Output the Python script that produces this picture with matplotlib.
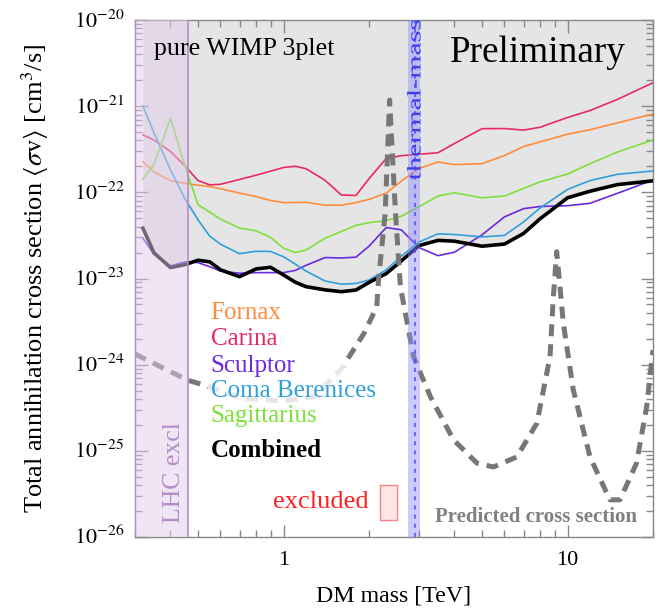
import numpy as np
import matplotlib
matplotlib.use('Agg')
import matplotlib.pyplot as plt
from matplotlib.ticker import LogLocator, FixedLocator, FuncFormatter, NullFormatter
from matplotlib.patches import Rectangle, PathPatch
from matplotlib.textpath import TextPath
from matplotlib.font_manager import FontProperties
import matplotlib.transforms as mtransforms

plt.rcParams['font.family'] = ['Liberation Serif', 'DejaVu Serif']
plt.rcParams['mathtext.fontset'] = 'stix'

# ---------------- data ----------------
mass = [0.32, 0.35, 0.4, 0.45, 0.5, 0.55, 0.6, 0.7, 0.8, 0.9, 1.0, 1.1, 1.2, 1.4, 1.6,
        1.8, 2.0, 2.3, 2.6, 3.0, 3.5, 4.0, 5.0, 6.0, 7.0, 8.0, 10.0, 12.0, 15.0, 20.0]

fornax = [2.27e-22, 1.72e-22, 1.37e-22, 1.27e-22, 1.21e-22, 1.17e-22, 1.10e-22, 9.8e-23,
          8.93e-23, 8.04e-23, 7.6e-23, 7.62e-23, 7.67e-23, 7.08e-23, 7.1e-23, 7.6e-23,
          8.28e-23, 9.8e-23, 1.35e-22, 1.89e-22, 2.25e-22, 2.1e-22, 2.15e-22, 2.67e-22,
          3.4e-22, 3.85e-22, 4.73e-22, 5.33e-22, 6.41e-22, 8.11e-22]

carina = [4.63e-22, 4.05e-22, 2.98e-22, 2.02e-22, 1.37e-22, 1.22e-22, 1.24e-22, 1.41e-22,
          1.58e-22, 1.76e-22, 1.94e-22, 2.01e-22, 1.88e-22, 1.38e-22, 9.3e-23, 9.2e-23,
          1.44e-22, 2.47e-22, 2.66e-22, 2.77e-22, 2.88e-22, 3.69e-22, 5.48e-22, 5.5e-22,
          5.28e-22, 5.69e-22, 7.39e-22, 8.9e-22, 1.2e-21, 1.87e-21]

sculptor = [2.93e-23, 1.9e-23, 1.4e-23, 1.56e-23, 1.53e-23, 1.37e-23, 1.22e-23, 1.15e-23,
            1.17e-23, 1.17e-23, 1.17e-23, 1.24e-23, 1.42e-23, 1.75e-23, 1.73e-23, 1.77e-23,
            2.37e-23, 3.9e-23, 3.67e-23, 2.28e-23, 1.84e-23, 2.02e-23, 3.21e-23, 5.19e-23,
            6.46e-23, 6.85e-23, 7.0e-23, 7.46e-23, 9.75e-23, 1.39e-22]

coma = [1.0e-21, 4.9e-22, 1.82e-22, 8.4e-23, 4.8e-23, 3.1e-23, 2.5e-23, 1.94e-23,
        2.07e-23, 2.06e-23, 1.79e-23, 1.47e-23, 1.22e-23, 9.35e-24, 8.6e-24, 8.75e-24,
        9.6e-24, 1.26e-23, 1.82e-23, 2.65e-23, 3.3e-23, 3.24e-23, 3.04e-23, 3.16e-23,
        4.53e-23, 6.58e-23, 1.08e-22, 1.37e-22, 1.62e-22, 1.77e-22]

sagittarius = [1.42e-22, 2.11e-22, 7.23e-22, 2.01e-22, 7.19e-23, 5.9e-23, 4.88e-23, 3.85e-23,
               3.58e-23, 3.0e-23, 2.25e-23, 2.0e-23, 2.14e-23, 2.93e-23, 3.52e-23, 4.13e-23,
               4.45e-23, 4.7e-23, 5.29e-23, 6.81e-23, 9.07e-23, 9.88e-23, 8.64e-23, 9.07e-23,
               1.11e-22, 1.32e-22, 1.63e-22, 2.15e-22, 2.94e-22, 4.05e-22]

combined = [3.83e-23, 1.98e-23, 1.34e-23, 1.45e-23, 1.63e-23, 1.56e-23, 1.26e-23, 1.05e-23,
            1.29e-23, 1.35e-23, 1.1e-23, 9.06e-24, 8.04e-24, 7.38e-24, 7.03e-24, 7.35e-24,
            9.0e-24, 1.14e-23, 1.6e-23, 2.41e-23, 2.77e-23, 2.71e-23, 2.37e-23, 2.51e-23,
            3.33e-23, 4.92e-23, 8.64e-23, 1.03e-22, 1.23e-22, 1.36e-22]

pred_mass = [0.3, 0.46, 0.54, 0.7, 1.0, 1.28, 1.59, 1.92, 2.13, 2.16, 2.28, 2.33, 2.364,
             2.41, 2.48, 2.58, 2.87, 3.29, 3.97, 4.8, 5.49, 6.63, 7.8, 8.68, 8.9, 9.16,
             9.67, 10.48, 12.0, 14.1, 15.3, 17.5, 19.0, 20.0]
pred_sv = [1.33e-24, 6.6e-25, 5.65e-25, 4.1e-25, 3.8e-25, 4.25e-25, 8.7e-25, 2.3e-24,
           4.7e-24, 9.6e-24, 5.7e-23, 3.4e-22, 1.18e-21, 3.4e-22, 5.7e-23, 8e-24,
           1.24e-24, 4.25e-25, 1.34e-25, 7.2e-26, 6.5e-26, 8.5e-26, 2.09e-25, 1.24e-24,
           5.6e-24, 2.05e-23, 3.0e-24, 5.1e-25, 8.5e-26, 2.7e-26, 2.7e-26, 7.2e-26,
           3.25e-25, 1.48e-24]

lhc_excl = (0.3, 0.46)
thermal_band = (2.74, 3.03)
thermal_mass = 2.9

series_names = ['Fornax', 'Carina', 'Sculptor', 'Coma Berenices', 'Sagittarius']
series_colors = ['#ff8c3c', '#e82a62', '#6a2ae0', '#2f9fdc', '#7ee03a']
series_data = [fornax, carina, sculptor, coma, sagittarius]

y_exponents = [-26, -25, -24, -23, -22, -21, -20]
x_ticks = [1, 10]

# ---------------- figure ----------------
W, H = 658, 613
fig = plt.figure(figsize=(W / 100, H / 100), dpi=100)
ax = fig.add_axes([135 / W, 76 / H, 518 / W, 517 / H])
ax.set_xscale('log')
ax.set_yscale('log')
ax.set_xlim(0.3, 20)
ax.set_ylim(1e-26, 1e-20)

ax.fill_between(mass, combined, 1e-20, color='#e5e5e5', lw=0, zorder=0)

for d, c in zip(series_data, series_colors):
    ax.plot(mass, d, color=c, lw=1.2, zorder=2)
ax.plot(mass, combined, color='black', lw=2.6, zorder=3, solid_joinstyle='round')

ax.plot(pred_mass, pred_sv, color='#777777', lw=3.6, ls=(0, (2.4, 1.6)), zorder=4)

# legend background
ax.add_patch(Rectangle((0.141, 0.145), 0.264, 0.317, transform=ax.transAxes,
                       fc='white', ec='none', alpha=0.82, zorder=5))


def axp(px, py):
    return ((px - 135) / 518, (537 - py) / 517)


baselines = [319.3, 345, 371.7, 396.7, 421.7]
for name, c, b in zip(series_names, series_colors, baselines):
    ax.text(*axp(210.7, b), name, color=c, fontsize=18, transform=ax.transAxes,
            va='baseline', ha='left', zorder=6)
ax.text(*axp(210.7, 456.7), 'Combined', color='black', fontsize=18, fontweight='bold',
        transform=ax.transAxes, va='baseline', ha='left', zorder=6)

ax.text(*axp(154, 55), 'pure WIMP 3plet', fontsize=18.7, transform=ax.transAxes,
        va='baseline', ha='left', zorder=9)
ax.text(*axp(450, 61.7), 'Preliminary', fontsize=26.8, transform=ax.transAxes,
        va='baseline', ha='left', zorder=9)
ax.text(*axp(273, 508), 'excluded', fontsize=19, color='#ff2020', transform=ax.transAxes,
        va='baseline', ha='left', zorder=6)
x0, y0 = axp(380, 520)
x1, y1 = axp(396.7, 485)
ax.add_patch(Rectangle((x0, y0), x1 - x0, y1 - y0, transform=ax.transAxes,
                       fc='#fde6e6', ec='#ff8080', lw=1, zorder=6))
ax.text(*axp(435, 521.7), 'Predicted cross section', fontsize=15, fontweight='bold',
        color='#808080', transform=ax.transAxes, va='baseline', ha='left', zorder=6)

# LHC exclusion band
ax.axvspan(*lhc_excl, color=(0.88, 0.80, 0.92), alpha=0.5, lw=0, zorder=7)
ax.axvline(lhc_excl[1], color='#b48cc8', lw=1.2, zorder=7.5)
ax.axvline(lhc_excl[0], color='#b48cc8', lw=1.5, zorder=7.5)
ax.text(*axp(180, 523), 'LHC excl', fontsize=18.5, color='#b58cc9', rotation=90,
        rotation_mode='anchor', ha='left', va='baseline', transform=ax.transAxes, zorder=8)

# thermal mass band
ax.axvspan(*thermal_band, color=(0.55, 0.55, 1.0), alpha=0.45, lw=0, zorder=7)
ax.axvline(thermal_mass, color='#4a4aff', lw=1.1, ls=(0, (2.7, 3.3)), zorder=7.5)

fp = FontProperties(family='Liberation Serif')
tp = TextPath((0, 0), 'thermal-mass', size=1, prop=fp)
ext = tp.get_extents()
L_px, H_em = 160.0, 19.5
tr = (mtransforms.Affine2D().translate(-ext.x0, 0).scale(L_px / ext.width, H_em)
      .rotate_deg(90).translate(420.5, H - 180))
fig.add_artist(PathPatch(tp, transform=tr, fc='#4040ea', ec='none', zorder=9))

# ticks
ax.xaxis.set_major_locator(FixedLocator(x_ticks))
ax.xaxis.set_major_formatter(FuncFormatter(lambda v, p: f'{v:g}'))
ax.xaxis.set_minor_locator(LogLocator(base=10, subs=np.arange(2, 10), numticks=20))
ax.xaxis.set_minor_formatter(NullFormatter())
ax.yaxis.set_major_locator(FixedLocator([10.0 ** k for k in y_exponents]))
ax.yaxis.set_major_formatter(NullFormatter())
ax.yaxis.set_minor_locator(LogLocator(base=10, subs=np.arange(2, 10), numticks=30))
ax.yaxis.set_minor_formatter(NullFormatter())
ax.tick_params(which='both', direction='in', top=True, right=True, color='#888888',
               labelsize=16, width=1)
ax.tick_params(which='major', length=9)
ax.tick_params(which='minor', length=5)
ax.tick_params(axis='x', which='major', pad=10)

ytrans = (mtransforms.blended_transform_factory(ax.transAxes, ax.transData)
          + mtransforms.ScaledTranslation(-11 / 100, -7.5 / 100, fig.dpi_scale_trans))
for k in y_exponents:
    ax.text(0, 10.0 ** k, r'$10^{%d}$' % k, transform=ytrans, ha='right', va='baseline',
            fontsize=16, clip_on=False)

for s in ax.spines.values():
    s.set_color('#888888')
    s.set_linewidth(1)

ax.set_xlabel('DM mass [TeV]', fontsize=17.2)
ax.set_ylabel(r'Total annihilation cross section $\langle \sigma \mathrm{v} \rangle$ [cm$^3$/s]',
              fontsize=19)
ax.xaxis.set_label_coords(0.5, -0.093)
ax.yaxis.set_label_coords(-0.162, 0.5)

fig.savefig('out.png', dpi=100)
